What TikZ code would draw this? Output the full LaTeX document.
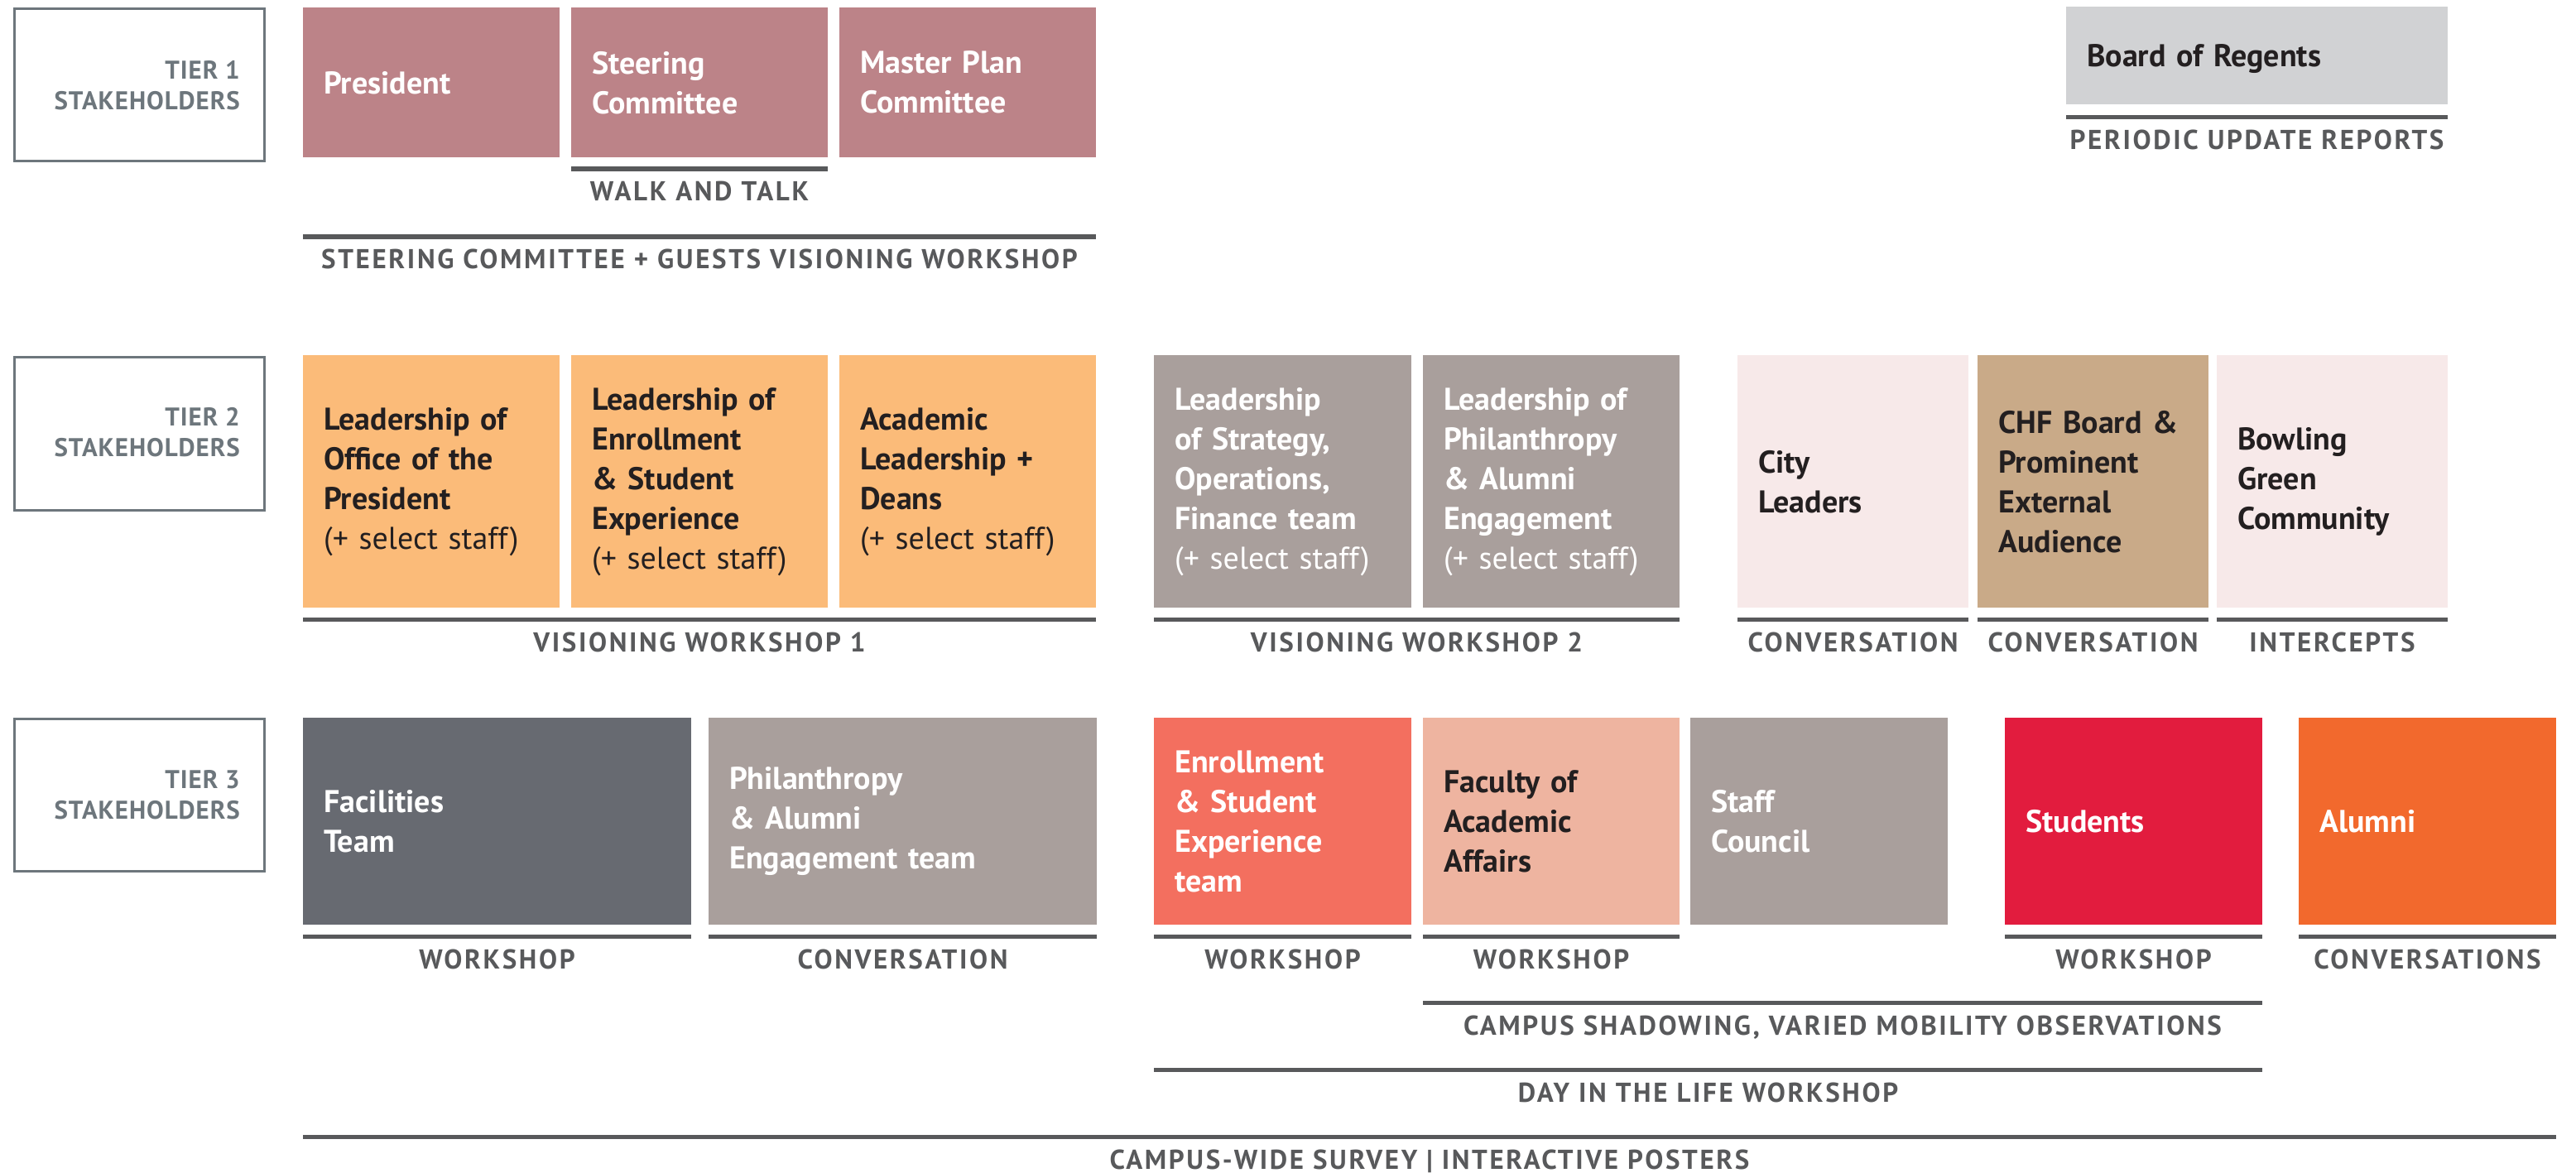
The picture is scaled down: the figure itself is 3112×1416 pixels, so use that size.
\documentclass[tikz,border=0pt]{standalone}
\usepackage{fontspec}
\setmainfont{PT Sans}
\newfontfamily\labfam[LetterSpace=8]{PT Sans}
\newfontfamily\tierfam[LetterSpace=3]{PT Sans}
\definecolor{mauve}{HTML}{BC8388}
\definecolor{boardgray}{HTML}{D1D2D4}
\definecolor{apricot}{HTML}{FBBB79}
\definecolor{taupe}{HTML}{A99F9C}
\definecolor{blush}{HTML}{F7E9E9}
\definecolor{tan}{HTML}{C9AA88}
\definecolor{slate}{HTML}{676A71}
\definecolor{salmon}{HTML}{F36F5F}
\definecolor{peach}{HTML}{EEB4A0}
\definecolor{crimson}{HTML}{E21C3E}
\definecolor{tangerine}{HTML}{F2692D}
\definecolor{barc}{HTML}{58595B}
\definecolor{tierc}{HTML}{6D767C}
\definecolor{ink}{HTML}{231F20}
\tikzset{
  stakebox/.style={draw=none, inner xsep=25pt, inner ysep=0pt, align=left, anchor=north west,
    font=\bfseries\fontsize{38}{48}\selectfont},
  oneline/.style={text depth=0pt},
  labtext/.style={inner sep=0pt, anchor=base, text=barc, font=\labfam\bfseries\fontsize{33}{33}\selectfont},
  tierbox/.style={draw=tierc, line width=3pt, fill=white},
  tiertext/.style={inner sep=0pt, anchor=east, align=right, text=tierc, font=\tierfam\bfseries\fontsize{31}{37}\selectfont},
}
\newcommand\mybox[9]{% name x y textwidth h fill textcolor text extra-options
  \node[stakebox, fill=#6, text=#7, text width=#4pt, minimum height=#5pt, #9] (#1) at (#2,#3) {#8};}
\newcommand\mybar[5]{% name x1 x2 y label
  \fill[barc] (#2,#4-2.75) rectangle (#3,#4+2.75);
  \node[labtext] (#1) at ({(#2+#3)/2},#4+38.5) {#5};}
\newcommand\sel{{\mdseries (+ select staff)}}
\begin{document}
\begin{tikzpicture}[x=1pt,y=-1pt]
\useasboundingbox[fill=white] (0,0) rectangle (3112,1416);

% tier labels
\draw[tierbox] (17,10) rectangle (319,194);
\node[tiertext] (t1) at (290,103) {TIER 1\\STAKEHOLDERS};
\draw[tierbox] (17,431) rectangle (319,616);
\node[tiertext] (t2) at (290,522) {TIER 2\\STAKEHOLDERS};
\draw[tierbox] (17,868) rectangle (319,1052);
\node[tiertext] (t3) at (290,960) {TIER 3\\STAKEHOLDERS};

% tier 1
\mybox{pres}{366}{9}{260}{181}{mauve}{white}{President}{oneline}
\mybox{steer}{690}{9}{260}{181}{mauve}{white}{Steering\\Committee}{}
\mybox{master}{1014}{9}{260}{181}{mauve}{white}{Master Plan\\Committee}{}
\mybox{board}{2496}{8}{411}{118}{boardgray}{ink}{Board of Regents}{oneline}
\mybar{walk}{690}{1000}{204}{WALK AND TALK}
\mybar{scg}{366}{1324}{286}{STEERING COMMITTEE + GUESTS VISIONING WORKSHOP}
\mybar{pur}{2496}{2957}{141.5}{PERIODIC UPDATE REPORTS}

% tier 2
\mybox{lop}{366}{429}{260}{305}{apricot}{ink}{Leadership of\\Office of the\\President\\\sel}{}
\mybox{loe}{690}{429}{260}{305}{apricot}{ink}{Leadership of\\Enrollment\\\& Student\\Experience\\\sel}{}
\mybox{ald}{1014}{429}{260}{305}{apricot}{ink}{Academic\\Leadership +\\Deans\\\sel}{}
\mybox{los}{1394}{429}{261}{305}{taupe}{white}{Leadership\\of Strategy,\\Operations,\\Finance team\\\sel}{}
\mybox{lph}{1719}{429}{260}{305}{taupe}{white}{Leadership of\\Philanthropy\\\& Alumni\\Engagement\\\sel}{}
\mybox{city}{2099}{429}{229}{305}{blush}{ink}{City\\Leaders}{}
\mybox{chf}{2389}{429}{229}{305}{tan}{ink}{CHF Board \&\\Prominent\\External\\Audience}{}
\mybox{bgc}{2678}{429}{229}{305}{blush}{ink}{Bowling\\Green\\Community}{}
\mybar{vw1}{366}{1324}{748.5}{VISIONING WORKSHOP 1}
\mybar{vw2}{1394}{2029}{748.5}{VISIONING WORKSHOP 2}
\mybar{conv1}{2099}{2378}{748.5}{CONVERSATION}
\mybar{conv2}{2389}{2668}{748.5}{CONVERSATION}
\mybar{inter}{2678}{2957}{748.5}{INTERCEPTS}

% tier 3
\mybox{fac}{366}{867}{419}{250}{slate}{white}{Facilities\\Team}{}
\mybox{phil}{856}{867}{419}{250}{taupe}{white}{Philanthropy\\\& Alumni\\Engagement team}{}
\mybox{enr}{1394}{867}{261}{250}{salmon}{white}{Enrollment\\\& Student\\Experience\\team}{}
\mybox{faa}{1719}{867}{260}{250}{peach}{ink}{Faculty of\\Academic\\Affairs}{}
\mybox{staff}{2042}{867}{261}{250}{taupe}{white}{Staff\\Council}{}
\mybox{stud}{2422}{867}{261}{250}{crimson}{white}{Students}{oneline}
\mybox{alum}{2777}{867}{261}{250}{tangerine}{white}{Alumni}{oneline}
\mybar{ws1}{366}{835}{1131.5}{WORKSHOP}
\mybar{cv1}{856}{1325}{1131.5}{CONVERSATION}
\mybar{ws2}{1394}{1705}{1131.5}{WORKSHOP}
\mybar{ws3}{1719}{2029}{1131.5}{WORKSHOP}
\mybar{ws4}{2422}{2733}{1131.5}{WORKSHOP}
\mybar{cvs}{2777}{3088}{1131.5}{CONVERSATIONS}
\mybar{shad}{1719}{2733}{1211.5}{CAMPUS SHADOWING, VARIED MOBILITY OBSERVATIONS}
\mybar{dil}{1394}{2733}{1292.5}{DAY IN THE LIFE WORKSHOP}
\mybar{cws}{366}{3088}{1373.5}{CAMPUS-WIDE SURVEY \textbar\ INTERACTIVE POSTERS}
\end{tikzpicture}
\end{document}
